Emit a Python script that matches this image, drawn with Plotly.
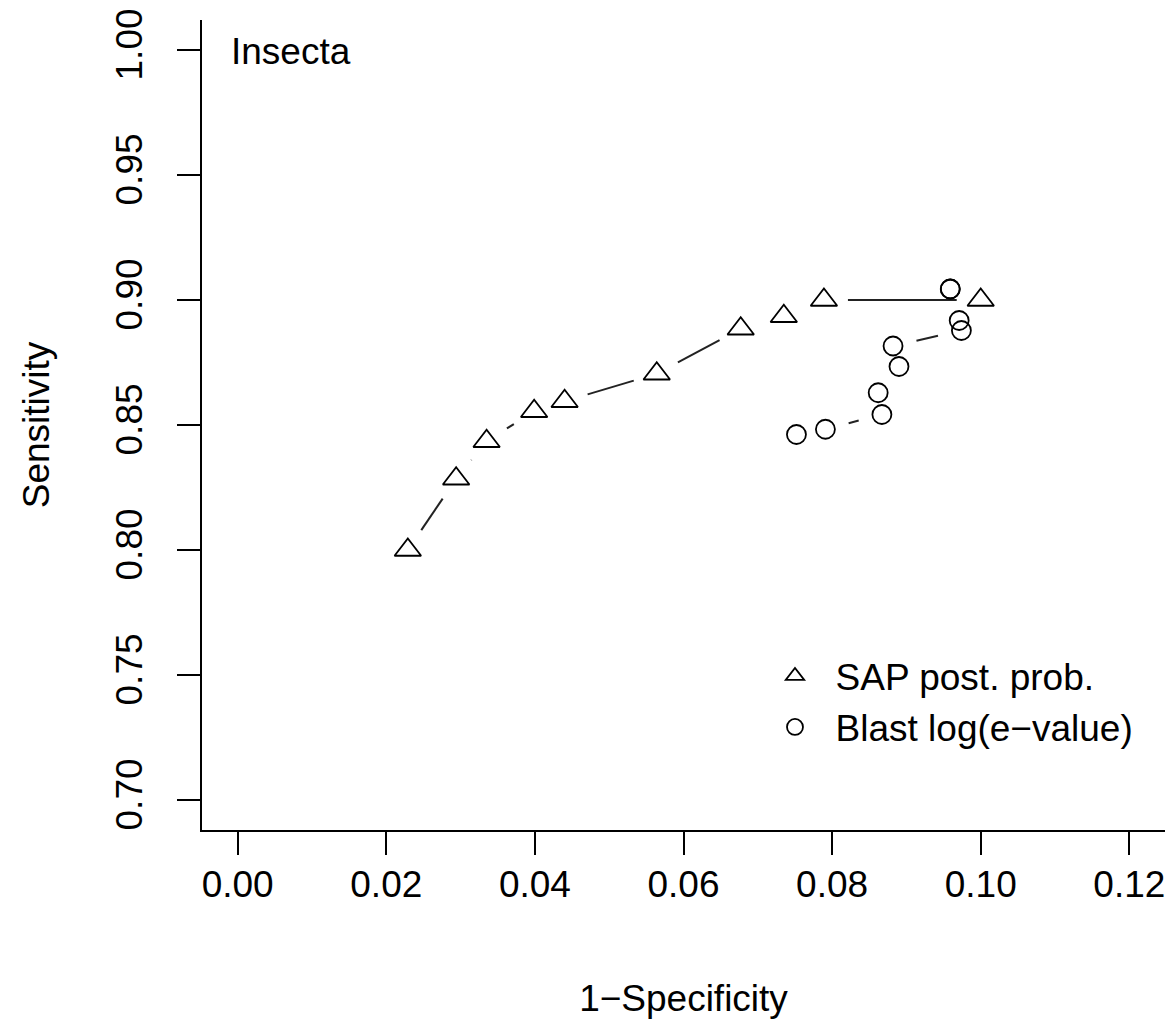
import math
import plotly.graph_objects as go

# ---- data ----
sap_x = [0.0229, 0.0294, 0.0335, 0.0399, 0.0440, 0.0564, 0.0677, 0.0735, 0.0789, 0.1000]
sap_y = [0.8000, 0.8285, 0.8435, 0.8555, 0.8595, 0.8705, 0.8885, 0.8935, 0.9000, 0.9000]

blast_x = [0.0752, 0.0791, 0.0867, 0.0862, 0.0890, 0.0882, 0.0974, 0.0971, 0.0959, 0.0959]
blast_y = [0.8462, 0.8483, 0.8542, 0.8629, 0.8734, 0.8816, 0.8878, 0.8918, 0.9044, 0.9044]

x_ticks = [0.00, 0.02, 0.04, 0.06, 0.08, 0.10, 0.12]
x_tick_labels = ["0.00", "0.02", "0.04", "0.06", "0.08", "0.10", "0.12"]
y_ticks = [0.70, 0.75, 0.80, 0.85, 0.90, 0.95, 1.00]
y_tick_labels = ["0.70", "0.75", "0.80", "0.85", "0.90", "0.95", "1.00"]

series_names = ["SAP post. prob.", "Blast log(e\u2212value)"]
panel_label = "Insecta"

# ---- layout geometry (page has an 8px body margin) ----
W, H = 1173, 1021
ML, MR, MT, MB = 194, 16, 12, 199
XR = [-0.0048, 0.1248]
YR = [0.688, 1.012]
px_x = (W - ML - MR) / (XR[1] - XR[0])
px_y = (H - MT - MB) / (YR[1] - YR[0])
GAP = 24  # pixel gap around points (R type="b")
FONT = "Liberation Sans, Arial, Helvetica, sans-serif"
FS = 37


def gapped(xs, ys):
    lx, ly = [], []
    for i in range(len(xs) - 1):
        dx = (xs[i + 1] - xs[i]) * px_x
        dy = (ys[i + 1] - ys[i]) * px_y
        d = math.hypot(dx, dy)
        if d <= 2 * GAP:
            continue
        f = GAP / d
        ddx = xs[i + 1] - xs[i]
        ddy = ys[i + 1] - ys[i]
        lx += [xs[i] + ddx * f, xs[i + 1] - ddx * f, None]
        ly += [ys[i] + ddy * f, ys[i + 1] - ddy * f, None]
    return lx, ly


fig = go.Figure()
for xs, ys in [(sap_x, sap_y), (blast_x, blast_y)]:
    lx, ly = gapped(xs, ys)
    fig.add_trace(go.Scatter(x=lx, y=ly, mode="lines", showlegend=False,
                             line=dict(color="#222222", width=2), hoverinfo="skip"))

fig.add_trace(go.Scatter(x=sap_x, y=sap_y, mode="markers", name="\u00a0\u00a0" + series_names[0],
                         marker=dict(symbol="triangle-up-open", size=23, color="black",
                                     line=dict(width=1.8, color="black"))))
fig.add_trace(go.Scatter(x=blast_x, y=blast_y, mode="markers", name="\u00a0\u00a0" + series_names[1],
                         marker=dict(symbol="circle-open", size=19, color="black",
                                     line=dict(width=1.8, color="black"))))

axis_common = dict(showgrid=False, zeroline=False, showline=True, linecolor="black",
                   linewidth=1.6, ticks="outside", ticklen=23, tickwidth=1.6,
                   tickcolor="black", mirror=False,
                   tickfont=dict(family=FONT, size=FS, color="black"))

fig.update_layout(
    width=W, height=H,
    margin=dict(l=ML, r=MR, t=MT, b=MB, autoexpand=False),
    paper_bgcolor="white", plot_bgcolor="white",
    font=dict(family=FONT, size=FS, color="black"),
    xaxis=dict(range=XR, tickvals=x_ticks, ticktext=x_tick_labels,
               title=dict(text="1\u2212Specificity", font=dict(family=FONT, size=FS), standoff=81),
               ticklabelstandoff=-2, **axis_common),
    yaxis=dict(range=YR, tickvals=y_ticks, ticktext=y_tick_labels, tickangle=-90,
               title=dict(text="Sensitivity", font=dict(family=FONT, size=FS), standoff=48),
               ticklabelstandoff=20, **axis_common),
    legend=dict(x=0.595, y=0.228, xanchor="left", yanchor="top",
                bgcolor="rgba(0,0,0,0)", font=dict(family=FONT, size=FS),
                tracegroupgap=0, itemwidth=30),
    annotations=[dict(text=panel_label, xref="paper", yref="paper", x=0.028, y=0.9605,
                      xanchor="left", yanchor="middle", showarrow=False,
                      font=dict(family=FONT, size=FS, color="black"))],
)

fig.write_html("out.html")
